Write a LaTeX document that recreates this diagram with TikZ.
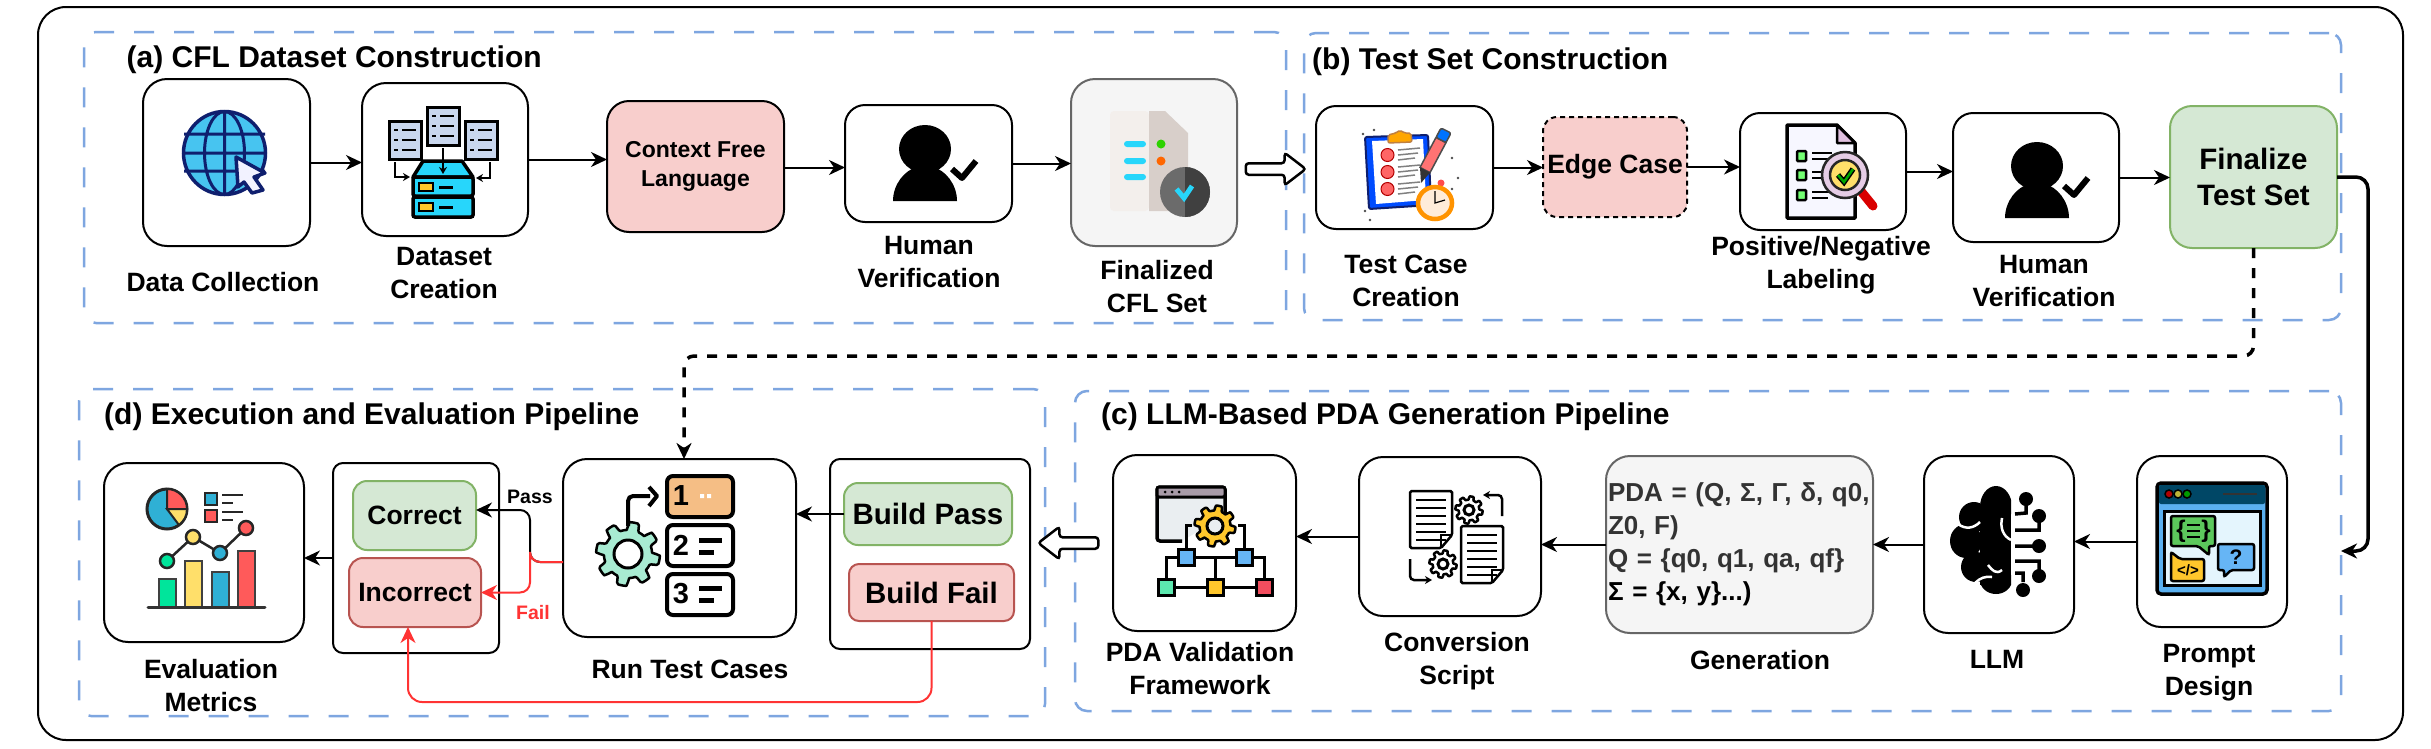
\documentclass[tikz,border=0pt]{standalone}
\usepackage{fontspec}
\setmainfont{Liberation Sans}
\usetikzlibrary{shapes.arrows, arrows.meta, positioning}
\definecolor{panelblue}{HTML}{7EA6E0}
\definecolor{redfill}{HTML}{F8CECC}
\definecolor{redline}{HTML}{B85450}
\definecolor{greenfill}{HTML}{D5E8D4}
\definecolor{greenline}{HTML}{82B366}
\definecolor{greyfill}{HTML}{F5F5F5}
\definecolor{greyline}{HTML}{666666}
\definecolor{failred}{HTML}{FF3333}
\definecolor{navy}{HTML}{0F1F6E}
\definecolor{globesky}{HTML}{47C4F0}
\definecolor{sheetblue}{HTML}{C9D7EE}
\definecolor{brightcyan}{HTML}{27D6FB}
\definecolor{tilegold}{HTML}{FFC72C}
\definecolor{paperlight}{HTML}{F3EFEC}
\definecolor{paperdark}{HTML}{D8CFCA}
\definecolor{tileorange}{HTML}{F5BE85}
\definecolor{gearmint}{HTML}{A8EBD2}
\definecolor{chartblue}{HTML}{2FB0D5}
\definecolor{chartred}{HTML}{FF5A5A}
\definecolor{chartyellow}{HTML}{FFDF6A}
\definecolor{chartgreen}{HTML}{00E59B}
\definecolor{winbar}{HTML}{A89BA8}
\definecolor{winbody}{HTML}{EAEEF1}
\definecolor{nodeblue}{HTML}{66B5F5}
\definecolor{nodemint}{HTML}{5CE8AF}
\definecolor{nodered}{HTML}{F24D5E}
\definecolor{barteal}{HTML}{004766}
\definecolor{winsky}{HTML}{5AB0F0}
\definecolor{paneice}{HTML}{E4F5FD}
\definecolor{bubblegreen}{HTML}{5CC85C}
\definecolor{labelgrey}{HTML}{333333}
\newcommand\bfsize[2]{\bfseries\fontsize{#1}{#2}\selectfont}
\tikzstyle{arrow} = [line width=2pt,->,>={Stealth[length=16pt,width=15pt,inset=5pt]}]
\tikzstyle{failarrow} = [arrow, draw=failred, >={Stealth[length=16pt,width=15pt,inset=5pt]}]
\tikzset{
	dims/.style 2 args = {minimum width=#1pt, minimum height=#2pt},
	iconbox/.style = {rectangle, draw=black, fill=white, line width=2pt, rounded corners=24pt, outer sep=0pt, inner sep=0pt},
	cfgbox/.style = {iconbox, rounded corners=10pt},
	softred/.style = {iconbox, rounded corners=14pt, fill=redfill, draw=redline},
	softgreen/.style = {iconbox, rounded corners=14pt, fill=greenfill, draw=greenline},
	softgrey/.style = {iconbox, fill=greyfill, draw=greyline},
	panel/.style = {rectangle, draw=panelblue, line width=2.5pt, dash pattern=on 20pt off 20pt, rounded corners=12pt, outer sep=0pt, inner sep=0pt},
	paneltitle/.style = {anchor=west, inner sep=0pt, font=\bfsize{30}{36}},
	caption/.style = {align=center, inner sep=0pt, font=\bfsize{26.5}{33}},
	hollowarrow/.style = {single arrow, draw=black, fill=white, line width=2.5pt, rounded corners=3pt, minimum height=60pt, minimum width=31pt, single arrow head extend=10.5pt, inner sep=4.5pt, single arrow tip angle=75, outer sep=0pt},
	pics/person/.style = {code={
		\fill (0,0) circle [x radius=26pt, y radius=24pt];
		\fill (-32,52) .. controls (-32,35) and (-20,21) .. (-8,18) -- (8,18) .. controls (20,21) and (32,35) .. (32,52) -- cycle;
		\draw [line width=6pt, line join=round] (27,20) -- (37,29) -- (51,12);
	}},
}
% small pieces for the icons
\newcommand\geardraw[5]{% centre, radius, hole, fill, hole fill
	\filldraw [shift={#1}, draw=black, line width=2.5pt, fill=#4, line join=round]
		plot [domain=0:360, samples=121] (\x:{#2*(1+.14*max(-1,min(1,3*sin(8*\x))))}) -- cycle;
	\filldraw [shift={#1}, draw=black, line width=3pt, fill=#5] (0,0) circle [radius=#3pt];
}
\newcommand\dashdoc[2]{% three rows of dashes in a blue sheet
	\filldraw [shift={(#1,#2)}, draw=black, line width=3pt, fill=sheetblue] (0,0) rectangle (32,38);
	\foreach \rowy in {9,19,29} {\draw [shift={(#1,#2)}, line width=2.5pt] (5,\rowy) -- (9,\rowy) (13,\rowy) -- (27,\rowy);}
}
\newcommand\textdoc[2]{% sheet of text with a turned corner
	\filldraw [shift={(#1,#2)}, draw=black, line width=2.5pt, fill=white, rounded corners=1.5pt] (0,0) -- (42,0) -- (42,44) -- (31,57) -- (0,57) -- cycle;
	\foreach \rowy in {9,17,25,33,41,49} {\draw [shift={(#1,#2)}, line width=2.5pt] (6,\rowy) -- (36,\rowy);}
	\draw [shift={(#1,#2)}, line width=2pt] (42,44) -- (31,44) -- (31,57);
}
\newcommand\numtile[4]{% tile, y of top, number, fill
	\filldraw [draw=black, line width=4pt, fill=#4, rounded corners=6pt] (667,#1) rectangle (733,#1+41);
	\node (#2) [inner sep=0pt, font=\bfsize{29}{29}] at (681,#1+20) {#3};
}

\begin{document}
\begin{tikzpicture}[x=1pt, y=-1pt, line cap=butt]
\useasboundingbox (0,0) rectangle (2431,748);
\fill [white] (0,0) rectangle (2431,748);

% Outer frame and panels
\node (frame) [iconbox, rounded corners=28pt, dims={2365}{733}] at (1220.5,373.5) {};
\node (panelA) [panel, dims={1202}{291}] at (685,177.5) {};
\node (panelB) [panel, dims={1037}{287}] at (1822.5,176.5) {};
\node (panelD) [panel, dims={966}{327}] at (562,552.5) {};
\node (panelC) [panel, dims={1266}{320}] at (1708,551) {};
\node (titleA) [paneltitle] at (126.5,60) {(a) CFL Dataset Construction};
\node (titleB) [paneltitle] at (1312,62) {(b) Test Set Construction};
\node (titleC) [paneltitle] at (1101,417) {(c) LLM-Based PDA Generation Pipeline};
\node (titleD) [paneltitle] at (104,417) {(d) Execution and Evaluation Pipeline};

% Placement of boxes, top row
\node (dataColl) [iconbox, dims={167}{167}] at (226.5,162.5) {};
\node (dataMake) [iconbox, dims={166}{153}] at (445,159.5) {};
\node (cflLang) [softred, rounded corners=22pt, draw=black, dims={177}{131}, align=center, font=\bfsize{23}{29}] at (695.5,166.5) {Context Free\\Language};
\node (humanA) [iconbox, rounded corners=20pt, dims={167}{117}] at (928.5,163.5) {};
\node (finalCfl) [softgrey, dims={166}{167}] at (1154,162.5) {};
\node (testCase) [iconbox, rounded corners=20pt, dims={177}{123}] at (1404.5,167.5) {};
\node (edgeCase) [softred, draw=black, dash pattern=on 5pt off 4pt, dims={144}{100}, font=\bfsize{26.5}{33}] at (1615,167) {Edge Case};
\node (posNeg) [iconbox, rounded corners=20pt, dims={166}{117}] at (1823,171.5) {};
\node (humanB) [iconbox, rounded corners=20pt, dims={166}{129}] at (2036,177.5) {};
\node (finalTest) [softgreen, rounded corners=22pt, dims={167}{142}, align=center, font=\bfsize{29.5}{36}] at (2253.5,177) {Finalize\\Test Set};

% Placement of boxes, bottom row
\node (prompt) [iconbox, dims={150}{171}] at (2212,541.5) {};
\node (llmBox) [iconbox, dims={150}{177}] at (1999,544.5) {};
\node (genBox) [softgrey, dims={267}{177}, text width=263pt, align=left, inner xsep=2pt, font=\bfsize{26}{33}] at (1739.5,544.5)
	{\textcolor{labelgrey}{PDA = (Q, Σ, Γ, δ, q0,}\\\textcolor{labelgrey}{Z0, F)}\\\textcolor{labelgrey}{Q = \{q0, q1, qa, qf\}}\\Σ = \{x, y\}...)};
\node (convert) [iconbox, dims={182}{159}] at (1450,536.5) {};
\node (pdaVal) [iconbox, dims={183}{176}] at (1204.5,543) {};
\node (buildBox) [cfgbox, dims={200}{190}] at (930,554) {};
\node (buildPass) [softgreen, dims={168}{62}, font=\bfsize{29.5}{36}] at (928,514) {Build Pass};
\node (buildFail) [softred, rounded corners=10pt, dims={165}{57}, font=\bfsize{29.5}{36}] at (931.5,592.5) {Build Fail};
\node (runTests) [iconbox, dims={233}{178}] at (679.5,548) {};
\node (verdict) [cfgbox, dims={166}{190}] at (416,558) {};
\node (correct) [softgreen, dims={123}{69}, font=\bfsize{26.5}{33}] at (414.5,515.5) {Correct};
\node (incorrect) [softred, dims={132}{69}, font=\bfsize{26.5}{33}] at (415,592.5) {Incorrect};
\node (metrics) [iconbox, dims={200}{179}] at (204,552.5) {};

% Captions
\node (capData) [caption] at (223,282) {Data Collection};
\node (capMake) [caption] at (444,273.5) {Dataset\\Creation};
\node (capHumanA) [caption] at (929,262.5) {Human\\Verification};
\node (capFinal) [caption] at (1157,287) {Finalized\\CFL Set};
\node (capTest) [caption] at (1406,280.5) {Test Case\\Creation};
\node (capPos) [caption] at (1821,265.5) {Positive/Negative\\Labeling};
\node (capHumanB) [caption] at (2044,281) {Human\\Verification};
\node (capPrompt) [caption] at (2209,672.5) {Prompt\\Design};
\node (capLlm) [caption] at (1997,659) {LLM};
\node (capGen) [caption] at (1760,660) {Generation};
\node (capConv) [caption] at (1457,661) {Conversion\\Script};
\node (capVal) [caption] at (1200,668.5) {PDA Validation\\Framework};
\node (capRun) [caption] at (690,669) {Run Test Cases};
\node (capEval) [caption] at (211,685.5) {Evaluation\\Metrics};

% Drawing of Lines of top row
\draw [arrow] (dataColl.east) -- (dataColl.east -| dataMake.west);
\draw [arrow] (dataMake.east) -- (dataMake.east -| cflLang.west);
\draw [arrow] ([yshift=-1pt]cflLang.east) -- ([yshift=-1pt]cflLang.east -| humanA.west);
\draw [arrow] (humanA.east) -- (humanA.east -| finalCfl.west);
\draw [arrow] (testCase.east) -- (testCase.east -| edgeCase.west);
\draw [arrow] (edgeCase.east) -- (edgeCase.east -| posNeg.west);
\draw [arrow] (posNeg.east) -- (posNeg.east -| humanB.west);
\draw [arrow] (humanB.east) -- (humanB.east -| finalTest.west);

% Drawing of Lines of bottom row
\draw [arrow] (prompt.west) -- (prompt.west -| llmBox.east);
\draw [arrow] (llmBox.west) -- (genBox.east);
\draw [arrow] (genBox.west) -- (genBox.west -| convert.east);
\draw [arrow] (convert.west) -- (convert.west -| pdaVal.east);
\draw [arrow] (buildPass.west) -- (buildPass.west -| runTests.east);
\draw [arrow] (verdict.west) -- (verdict.west -| metrics.east);

% Lines between the panels
\coordinate (turnRight) at (2368,360);
\coordinate (turnDash) at (1400,356);
\draw [arrow, line width=3.5pt, rounded corners=12pt] (finalTest.east) -| (turnRight) |- (panelC.east);
\draw [arrow, line width=3.5pt, dash pattern=on 10pt off 10pt, rounded corners=10pt] (finalTest.south) |- (turnDash) -| ([xshift=4.5pt]runTests.north);
\node (toTestSet) [hollowarrow] at (1272,169) {};
\node (toResults) [hollowarrow, shape border rotate=180] at (1072,543) {};

% Pass and fail lines
\coordinate (splitRun) at (530,550);
\draw [arrow, rounded corners=10pt] ([yshift=-14pt]runTests.west) -| (splitRun) |- ([yshift=5.5pt]correct.east);
\draw [failarrow, rounded corners=10pt] ([yshift=-14pt]runTests.west) -| (splitRun) |- (incorrect.east);
\coordinate (underFail) at (700,702);
\draw [failarrow, rounded corners=14pt] (buildFail.south) |- (underFail) -| ([xshift=-7pt]incorrect.south);
\node (passLbl) [inner sep=0pt, font=\bfsize{19.5}{22}] at (530,497) {Pass};
\node (failLbl) [inner sep=0pt, text=failred, font=\bfsize{19.5}{22}] at (533,613) {Fail};

% Icon: globe
\filldraw [draw=navy, fill=globesky, line width=3.5pt] (224.5,153) circle [x radius=41pt, y radius=41.5pt];
\draw [navy, line width=3pt] (224.5,153) circle [x radius=20pt, y radius=41.5pt] (224.5,112) -- (224.5,194.5) (184,134) -- (265,134) (183,153) -- (266,153) (184,171) -- (265,171);
\filldraw [draw=navy, fill=blue!5, line width=3.5pt, line join=round] (236,157) -- (265,173) -- (254,177) -- (263,190) -- (252,193) -- (244,182) -- (238,187) -- cycle;

% Icon: dataset
\dashdoc{389}{121} \dashdoc{427}{107} \dashdoc{465}{121}
\filldraw [draw=black, line width=3.5pt, fill=brightcyan, line join=round] (423,161) -- (462,161) -- (473,177) -- (413,177) -- cycle;
\filldraw [draw=black, line width=3.5pt, fill=brightcyan, rounded corners=2pt] (413,177) rectangle (473,196);
\filldraw [draw=black, line width=3.5pt, fill=brightcyan, rounded corners=2pt] (413,197) rectangle (473,217);
\foreach \rowy in {183,203} {
	\filldraw [draw=black, line width=2.5pt, fill=tilegold] (419,\rowy) rectangle (433,\rowy+8);
	\draw [line width=3pt] (439,\rowy+4) -- (453,\rowy+4);
}
\draw [-{Stealth[length=7pt,width=8pt]}, line width=2.5pt] (443,148) -- (443,174);
\draw [-{Stealth[length=7pt,width=8pt]}, line width=2.5pt] (395,162) -- (395,177) -- (410,177);
\draw [-{Stealth[length=7pt,width=8pt]}, line width=2.5pt] (490,162) -- (490,178) -- (476,178);

% Icon: people
\pic (checkA) at (925,149) {person};
\pic (checkB) at (2037,166) {person};

% Icon: finalized set
\fill [paperlight, rounded corners=4pt] (1149,111) -- (1110,111) -- (1110,211) -- (1149,211) -- cycle;
\fill [paperdark] (1149,111) -- (1165,111) -- (1188,133) -- (1188,211) -- (1149,211) -- cycle;
\foreach \rowy in {141,158,174} {\fill [brightcyan, rounded corners=3pt] (1124,\rowy) rectangle (1146,\rowy+6);}
\fill [green!65!olive] (1161,144) circle [radius=4.5pt];
\fill [orange!80!red] (1161,161) circle [radius=4.5pt];
\fill [black!58] (1185,192) circle [radius=25pt];
\begin{scope}
	\clip (1185,160) rectangle (1215,225);
	\fill [black!75] (1185,192) circle [radius=25pt];
\end{scope}
\draw [brightcyan, line width=5pt] (1176.5,189) -- (1184,198) -- (1192,186);

% Icon: test case
\filldraw [draw=navy, fill=blue!70!cyan, line width=2pt, rounded corners=2pt] (1365,137) -- (1428,135) -- (1431,205) -- (1369,209) -- cycle;
\fill [white] (1372,141) -- (1423,139) -- (1426,200) -- (1376,204) -- cycle;
\filldraw [draw=brown, fill=orange!70!yellow, line width=1.5pt, rounded corners=2pt] (1388,143) -- (1388,135) -- (1396,133) -- (1400,130) -- (1404,133) -- (1411,133) -- (1412,142) -- cycle;
\foreach \rowy in {155,172,189} {
	\filldraw [draw=red!70!black, fill=red!60!white, line width=1pt] (1387.5,\rowy) circle [radius=6.5pt];
	\draw [gray, line width=1.5pt] (1398,\rowy-5) -- (1420,\rowy-7) (1398,\rowy) -- (1418,\rowy-2) (1398,\rowy+5) -- (1415,\rowy+3);
}
\filldraw [draw=black!70, fill=red!55!white, line width=1.5pt] (1420,167.4) -- (1430,172.6) -- (1446,142.6) -- (1436,137.4) -- cycle;
\filldraw [draw=black!70, fill=blue!55!cyan, line width=1.5pt, rounded corners=2pt] (1436,137.4) -- (1446,142.6) -- (1451,133) -- (1441,128) -- cycle;
\fill [black!80] (1420,167.4) -- (1430,172.6) -- (1421,183) -- cycle;
\fill [red!70!white] (1441,183) circle [radius=3.5pt];
\filldraw [draw=orange!85!yellow, fill=orange!15, line width=4.5pt] (1435,203) circle [x radius=17pt, y radius=16pt];
\draw [line width=1.2pt] (1435,191) -- (1435,203) -- (1445,200);
\foreach \dotx/\doty in {1363/134, 1374/130, 1452/158, 1458/178, 1452/189, 1365/211, 1370/220} {\fill [black!70] (\dotx,\doty) circle [radius=1.3pt];}

% Icon: labeling
\filldraw [draw=black, fill=blue!3, line width=3.5pt, line join=round] (1787,125) -- (1837,125) -- (1855,143) -- (1855,218) -- (1787,218) -- cycle;
\filldraw [draw=black, fill=violet!25, line width=2.5pt, line join=round] (1837,125) -- (1855,143) -- (1837,143) -- cycle;
\foreach \rowy in {156,175,195} {
	\filldraw [draw=black, fill=green!55!white, line width=2.5pt, rounded corners=1pt] (1797,\rowy-5) rectangle (1806,\rowy+5);
	\draw [line width=2.5pt] (1812,\rowy-3) -- (1832,\rowy-3) (1812,\rowy+3) -- (1828,\rowy+3);
}
\draw [line width=9pt, draw=red!85!black, line cap=round] (1860,190) -- (1873,206);
\filldraw [draw=black!85, fill=violet!20, line width=2.5pt] (1845,175) circle [x radius=23pt, y radius=23pt];
\filldraw [draw=black!85, fill=chartyellow, line width=2.5pt] (1845,175) circle [radius=15pt];
\draw [draw=black, line width=5.5pt] (1838,175) -- (1844,182) -- (1853,169);
\draw [draw=green!65!black, line width=2.5pt] (1838,175) -- (1844,182) -- (1853,169);

% Icon: metrics
\filldraw [draw=black!85, fill=chartblue, line width=3pt] (167,509) circle [radius=20pt];
\filldraw [draw=black!85, fill=chartred, line width=2pt] (167,509) -- (167,489) .. controls (178,489) and (187,498) .. (187,509) -- cycle;
\filldraw [draw=black!85, fill=chartyellow, line width=2pt] (167,509) -- (187,509) .. controls (187,516) and (184,521) .. (179,525) -- cycle;
\filldraw [draw=black!85, fill=chartblue, line width=2.5pt] (205,493) rectangle (217,505);
\filldraw [draw=black!85, fill=chartred, line width=2.5pt] (205,510) rectangle (217,522);
\draw [black!85, line width=2.5pt] (222,495) -- (243,495) (222,503) -- (233,503) (222,512) -- (243,512) (222,520) -- (233,520);
\draw [black!85, line width=2.5pt] (167,561) -- (193,537) -- (220,553) -- (246,528);
\foreach \px/\py/\pcol in {167/561/chartgreen, 193/537/chartyellow, 220/553/chartblue, 246/528/chartred} {
	\filldraw [draw=black!85, fill=\pcol, line width=2.5pt] (\px,\py) circle [radius=7pt];
}
\foreach \bx/\by/\bcol in {159/579/chartgreen, 185/561/chartyellow, 212/572/chartblue, 238/551/chartred} {
	\filldraw [draw=black!75, fill=\bcol, line width=2.5pt] (\bx,607) -- (\bx,\by) -- (\bx+17,\by) -- (\bx+17,607);
}
\draw [black!80, line width=3pt, line cap=round] (148,607) -- (265,607);

% Icon: run test cases
\geardraw{(628,554)}{28}{14}{gearmint}{white}
\draw [line width=4pt, rounded corners=5pt] (628,526) -- (628,496) -- (650,496);
\draw [line width=4pt, line join=round] (649,487) -- (657,496) -- (649,506);
\numtile{476}{numOne}{1}{tileorange}
\numtile{525}{numTwo}{2}{white}
\numtile{574}{numThree}{3}{white}
\fill [white] (700,494) rectangle (704,498) (707,494) rectangle (711,498);
\draw [line width=5pt] (699,540) -- (722,540) (699,552) -- (714,552) (699,588) -- (722,588) (699,600) -- (714,600);

% Icon: validation framework
\filldraw [draw=black, fill=winbody, line width=3.5pt, rounded corners=3pt] (1182,541) -- (1157,541) -- (1157,487) -- (1225,487) -- (1225,515);
\filldraw [draw=black, fill=winbar, line width=3pt, rounded corners=2pt] (1157,487) rectangle (1225,497);
\fill [black] (1165,492) circle [radius=1.5pt] (1172,492) circle [radius=1.5pt] (1179,492) circle [radius=1.5pt];
\geardraw{(1215,526)}{18}{8}{tilegold}{winbody}
\draw [line width=3pt] (1186,552) -- (1186,525) -- (1192,525) (1244,552) -- (1244,525) -- (1238,525);
\draw [line width=3pt] (1194,557) -- (1236,557) (1215,557) -- (1215,580) (1178,557) -- (1166,557) -- (1166,578) (1252,557) -- (1264,557) -- (1264,578) (1173,587) -- (1207,587) (1223,587) -- (1256,587);
\foreach \bx/\by/\bcol in {1186/557/nodeblue, 1244/557/nodeblue, 1166/587/nodemint, 1215/587/tilegold, 1264/587/nodered} {
	\filldraw [draw=black, fill=\bcol, line width=3pt] (\bx-8,\by-8) rectangle (\bx+8,\by+8);
}

% Icon: conversion script
\textdoc{1410}{491}
\textdoc{1461}{526}
\geardraw{(1469,510)}{12}{5}{white}{white}
\geardraw{(1443,564)}{12}{5}{white}{white}
\draw [-{Stealth[length=7pt,width=8pt]}, line width=2.5pt, rounded corners=4pt] (1502,516) -- (1502,495) -- (1483,495);
\draw [-{Stealth[length=7pt,width=8pt]}, line width=2.5pt, rounded corners=4pt] (1410,559) -- (1410,580) -- (1432,580);

% Icon: brain
\begin{scope}
	\clip (1940,480) rectangle (2011,600);
	\fill (1996,507) circle [x radius=16pt, y radius=21pt];
	\fill (1974,517) circle [radius=15pt];
	\fill (1966,541) circle [x radius=16pt, y radius=17pt];
	\fill (1976,567) circle [radius=15pt];
	\fill (1996,580) circle [x radius=16pt, y radius=14pt];
	\fill (1980,510) rectangle (2011,585);
\end{scope}
\draw [white, line width=2.5pt] (1958,524) .. controls (1966,530) and (1974,528) .. (1980,522) (2011,540) .. controls (2003,536) and (2000,528) .. (2002,518) (1988,565) .. controls (1992,570) and (1996,575) .. (2002,570) (1975,583) .. controls (1980,578) and (1985,576) .. (1992,577);
\draw [line width=3.5pt] (2026,505) -- (2026,513) -- (2015,514) (2039,522) -- (2039,530) -- (2015,530) (2039,546) -- (2015,546) (2039,572) -- (2039,561) -- (2015,561) (2023,582) -- (2023,573) -- (2015,573);
\foreach \cx/\cy in {2026/499, 2039/516, 2039/546, 2039/576, 2023/590} {\fill (\cx,\cy) circle [radius=7pt];}

% Icon: prompt design
\filldraw [draw=black, fill=winsky, line width=3.5pt, rounded corners=4pt] (2157,483) rectangle (2267,594);
\fill [barteal, rounded corners=2pt] (2159,485) rectangle (2265,504);
\filldraw [draw=black, fill=paneice, line width=3pt] (2164,511) rectangle (2260,585);
\foreach \cx/\ccol in {2169/red!70!black, 2178/yellow!70!black, 2187/green!60!black} {\filldraw [draw=black, fill=\ccol, line width=1.5pt] (\cx,494) circle [radius=4pt];}
\draw [line width=2.5pt, black!80] (2223,494) -- (2257,494);
\filldraw [draw=black, fill=bubblegreen, line width=2.5pt, rounded corners=2pt] (2171,516) -- (2215,516) -- (2215,546) -- (2209,546) -- (2209,555) -- (2198,546) -- (2171,546) -- cycle;
\node (curlyL) [inner sep=0pt, font=\bfsize{24}{24}] at (2181,531) {\{};
\node (curlyR) [inner sep=0pt, font=\bfsize{24}{24}] at (2206,531) {\}};
\draw [line width=2.5pt] (2187,525) -- (2200,525) (2187,531) -- (2200,531) (2187,537) -- (2200,537);
\filldraw [draw=black, fill=tilegold, line width=2.5pt, rounded corners=2pt] (2171,581) -- (2171,552) -- (2180,559) -- (2204,559) -- (2204,581) -- cycle;
\node (codeMark) [inner sep=0pt, font=\bfsize{15}{15}] at (2188,570) {</>};
\filldraw [draw=black, fill=nodeblue, line width=2.5pt, rounded corners=2pt] (2218,544) -- (2254,544) -- (2254,570) -- (2231,570) -- (2224,577) -- (2224,570) -- (2218,570) -- cycle;
\node (askMark) [inner sep=0pt, font=\bfsize{21}{21}] at (2236,557) {?};
\end{tikzpicture}
\end{document}
